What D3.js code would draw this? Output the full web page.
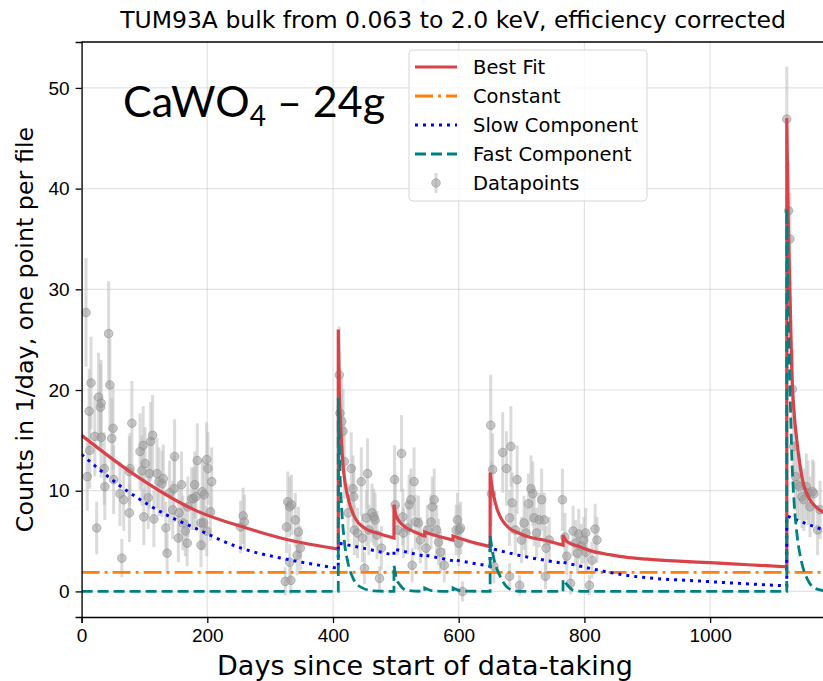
<!DOCTYPE html>
<html lang="en">
<head>
    <meta charset="UTF-8">
    <title>TUM93A bulk fit</title>
    <script src="https://d3js.org/d3.v7.min.js"></script>
    <style>
        body {
            margin: 0;
            background: #fff;
        }
        svg {
            display: block;
            font-family: "DejaVu Sans", sans-serif;
        }
        .grid line {
            stroke: #b0b0b0;
            stroke-opacity: 0.35;
            stroke-width: 1.2;
        }
        .axis path, .axis line {
            stroke: #000;
            stroke-width: 1.3;
        }
        .axis text {
            font-size: 19px;
            fill: #000;
        }
        .errbar {
            stroke: #bdbdbd;
            stroke-opacity: 0.55;
            stroke-width: 3;
        }
        .point {
            fill: #9a9a9a;
            fill-opacity: 0.55;
            stroke: #8a8a8a;
            stroke-opacity: 0.5;
        }
    </style>
</head>
<body>
<div id="chart"></div>
<script>
    // data points: day, counts per day, error
    var pointDays = [7, 9, 12, 13, 15, 21, 24, 27, 30, 31, 31, 36, 37, 43, 45, 48, 50, 51, 61, 64, 67, 76, 76, 77, 80,
        93, 96, 98, 99, 101, 106, 108, 110, 113, 115, 120, 123, 128, 130, 134, 136, 140, 145, 147, 148, 154, 155,
        159, 161, 165, 168, 169, 175, 178, 180, 182, 184, 190, 190, 192, 194, 195, 199, 199, 201, 205, 207,
        253, 257, 259, 324, 326, 328, 331, 331, 333, 334, 340, 343, 345, 348,
        410, 411, 414, 416, 418, 424, 429, 432, 433, 434, 439, 445, 447, 450, 453, 455, 457, 462, 465, 467, 470, 474, 477,
        498, 499, 503, 509, 511, 512, 519, 521, 524, 526, 529, 531, 536, 539, 548, 550, 556, 558, 561, 565, 568, 571, 577,
        596, 598, 600, 601, 603, 606,
        651, 652, 654, 656, 670, 676, 681, 681, 683, 685, 690, 693, 697, 700, 704, 707, 711, 715, 718, 720, 724, 728,
        732, 736, 738, 739, 744,
        765, 769, 772, 778, 782, 786, 789, 791, 795, 799, 802, 803, 808, 812, 817, 820,
        1122, 1125, 1127, 1131, 1133, 1136, 1139, 1142, 1146, 1149, 1153, 1156, 1159, 1163, 1165, 1171, 1175];
    var pointCounts = [27.7, 11.4, 17.9, 14.0, 20.7, 15.4, 6.3, 19.3, 18.3, 18.7, 15.3, 12.2, 10.4, 25.6, 20.5, 15.2, 16.2, 11.1, 9.7, 3.3, 9.1, 7.8, 11.9, 12.2, 16.7,
        13.9, 12.0, 14.5, 7.4, 12.7, 9.3, 11.7, 14.9, 15.5, 7.2, 11.7, 10.9, 10.7, 11.2, 6.3, 3.8, 9.8, 8.1, 10.2, 13.4, 5.3, 7.8,
        10.6, 6.8, 6.0, 4.8, 8.4, 9.2, 9.2, 10.6, 9.4, 13.0, 6.8, 4.6, 9.9, 6.8, 9.6, 13.1, 6.0, 12.2, 7.9, 10.9,
        6.4, 7.5, 6.9, 1.0, 6.4, 8.9, 8.4, 2.9, 1.1, 8.6, 7.1, 3.6, 5.9, 4.3,
        21.5, 17.7, 16.9, 15.9, 12.9, 7.8, 12.2, 10.2, 9.4, 6.1, 5.8, 10.9, 5.3, 2.3, 7.3, 11.7, 6.1, 7.8, 7.4, 7.1, 5.6, 1.3, 4.3,
        11.1, 8.6, 6.1, 13.7, 7.4, 5.8, 6.3, 8.6, 9.1, 2.6, 10.9, 6.9, 6.8, 5.1, 4.3, 6.1, 6.9, 8.4, 9.1, 6.1, 4.9, 3.9, 2.6,
        6.1, 7.1, 4.8, 6.1, 6.3, 0.0,
        16.5, 9.7, 12.1, 2.5, 13.8, 12.2, 7.3, 1.5, 14.4, 8.8, 6.1, 11.1, 0.6, 5.1, 6.8, 5.8, 8.7, 10.2, 9.7, 7.3, 5.8, 7.1,
        9.1, 7.1, 1.5, 4.3, 5.1,
        9.1, 5.4, 3.5, 0.8, 6.0, 4.8, 3.8, 5.7, 4.5, 5.1, 5.8, 3.9, 0.6, 3.1, 6.2, 5.1,
        46.9, 37.8, 35.0, 20.1, 14.4, 11.4, 10.6, 10.4, 9.4, 9.1, 10.4, 9.8, 8.4, 9.9, 9.7, 6.1, 8.1];
    var pointErrors = [5.4, 3.4, 4.2, 3.8, 4.6, 4.0, 2.6, 4.4, 4.3, 4.3, 4.0, 3.6, 3.3, 5.2, 4.6, 4.0, 4.1, 3.4, 3.2, 1.9, 3.1, 2.9, 3.5, 3.5, 4.2,
        3.8, 3.5, 3.9, 2.8, 3.6, 3.1, 3.5, 3.9, 4.0, 2.8, 3.5, 3.4, 3.3, 3.4, 2.6, 2.0, 3.2, 2.9, 3.3, 3.7, 2.4, 2.9,
        3.3, 2.7, 2.5, 2.3, 3.0, 3.1, 3.1, 3.3, 3.1, 3.7, 2.7, 2.2, 3.2, 2.7, 3.2, 3.7, 2.5, 3.6, 2.9, 3.4,
        2.6, 2.8, 2.7, 1.4, 2.6, 3.0, 3.0, 1.8, 1.4, 3.0, 2.7, 2.0, 2.5, 2.2,
        4.8, 4.4, 4.3, 4.2, 3.7, 2.9, 3.6, 3.3, 3.1, 2.5, 2.5, 3.4, 2.4, 1.6, 2.8, 3.5, 2.5, 2.9, 2.8, 2.7, 2.4, 1.2, 2.2,
        3.4, 3.0, 2.5, 3.8, 2.8, 2.5, 2.6, 3.0, 3.1, 1.7, 3.4, 2.7, 2.7, 2.3, 2.2, 2.5, 2.7, 3.0, 3.1, 2.5, 2.3, 2.0, 1.7,
        2.5, 2.7, 2.3, 2.5, 2.6, 1.0,
        5.0, 3.2, 3.6, 1.7, 4.0, 3.7, 2.8, 1.3, 4.0, 3.0, 2.5, 3.4, 1.0, 2.3, 2.7, 2.5, 3.0, 3.3, 3.2, 2.8, 2.5, 2.7,
        3.1, 2.7, 1.3, 2.2, 2.3,
        3.1, 2.4, 1.9, 1.1, 2.5, 2.3, 2.0, 2.5, 2.2, 2.3, 2.5, 2.0, 1.0, 1.8, 2.5, 2.3,
        5.2, 4.8, 4.6, 4.0, 3.8, 3.4, 3.3, 3.3, 3.1, 3.1, 3.3, 3.2, 3.0, 3.2, 3.2, 2.5, 2.9];

    // fitted curves as [day, value] pieces (each piece starts where a new file begins)
    var bestFitSegments = [
        [[0, 15.5], [77, 11.9], [183, 8.0], [262, 6.3], [330, 5.1], [408.4, 4.2]],
        [[408.4, 26.0], [410, 20.0], [413, 15.5], [416, 12.5], [420, 10.5], [426, 8.8], [435, 7.3], [450, 6.3], [470, 5.8], [497, 5.3]],
        [[497, 8.6], [500, 7.6], [506, 6.9], [515, 6.4], [530, 5.9], [546, 5.5]],
        [[546, 5.9], [560, 5.6], [575, 5.35], [591, 5.1]],
        [[591, 5.5], [610, 5.1], [630, 4.75], [650, 4.45]],
        [[650, 11.8], [653, 10.3], [656, 9.4], [662, 8.0], [670, 7.0], [680, 6.3], [695, 5.8], [712, 5.4], [735, 5.1], [766, 4.6]],
        [[766, 5.6], [770, 5.1], [775, 4.85], [790, 4.5], [812, 4.0], [840, 3.65], [865, 3.4], [900, 3.2], [950, 3.0], [1000, 2.85], [1060, 2.65], [1122, 2.45]],
        [[1122, 47.0], [1124, 38.0], [1127, 30.0], [1130, 22.0], [1134, 17.5], [1138, 15.0], [1146, 11.4], [1159, 9.1], [1170, 8.3], [1185, 7.7]]
    ];
    var constantDays = [0, 1185];
    var constantValues = [1.9, 1.9];
    var slowSegments = [
        [[0, 13.6], [72, 10.0], [135, 7.6], [180, 6.3], [249, 4.4], [334, 3.1], [408.4, 2.3]],
        [[408.4, 4.8], [448, 4.3], [497, 3.6]],
        [[497, 4.2], [546, 3.5]],
        [[546, 3.6], [591, 3.05]],
        [[591, 3.15], [650, 2.5]],
        [[650, 4.3], [695, 3.6], [766, 2.8]],
        [[766, 2.9], [867, 1.6], [1000, 0.97], [1122, 0.55]],
        [[1122, 7.5], [1150, 6.8], [1185, 6.0]]
    ];
    var fastSegments = [
        [[0, 0], [408.4, 0]],
        [[408.4, 19.2], [411, 12.0], [414, 8.0], [418, 5.0], [424, 2.8], [432, 1.3], [445, 0.4], [465, 0.05], [497, 0]],
        [[497, 2.6], [501, 1.3], [507, 0.6], [517, 0.12], [546, 0]],
        [[546, 0.35], [560, 0.05], [591, 0]],
        [[591, 0.35], [605, 0.05], [650, 0]],
        [[650, 5.5], [655, 3.5], [660.5, 2.3], [666, 1.5], [671, 0.9], [684, 0.15], [700, 0], [766, 0]],
        [[766, 1.2], [772, 0.7], [783, 0.1], [800, 0], [1122, 0]],
        [[1122, 38.0], [1124, 29.0], [1127, 20.5], [1130, 13.5], [1134, 8.5], [1138, 5.8], [1146, 2.8], [1155, 1.2], [1167, 0.3], [1185, 0.05]]
    ];

    var xTicks = [0, 200, 400, 600, 800, 1000];
    var yTicks = [0, 10, 20, 30, 40, 50];
    var legendLabels = ["Best Fit", "Constant", "Slow Component", "Fast Component", "Datapoints"];

    var W = 823, H = 681;
    var margin = {top: 42, left: 81.6, bottom: 64};
    var plotW = 1200 * 0.6285,
        plotH = H - margin.top - margin.bottom;

    var svg = d3.select("#chart").append("svg")
        .attr("width", W)
        .attr("height", H);

    var x = d3.scaleLinear().domain([0, 1200]).range([margin.left, margin.left + plotW]);
    var y = d3.scaleLinear().domain([-2.54, 54.56]).range([margin.top + plotH, margin.top]);

    svg.append("clipPath").attr("id", "plotclip")
        .append("rect")
        .attr("x", margin.left).attr("y", margin.top)
        .attr("width", plotW).attr("height", plotH);

    // grid
    var grid = svg.append("g").attr("class", "grid");
    grid.selectAll(".gx").data(xTicks).enter().append("line")
        .attr("x1", function(d) { return x(d); }).attr("x2", function(d) { return x(d); })
        .attr("y1", margin.top).attr("y2", margin.top + plotH);
    grid.selectAll(".gy").data(yTicks).enter().append("line")
        .attr("x1", margin.left).attr("x2", margin.left + plotW)
        .attr("y1", function(d) { return y(d); }).attr("y2", function(d) { return y(d); });

    var plot = svg.append("g").attr("clip-path", "url(#plotclip)");

    var points = pointDays.map(function(d, i) {
        return {day: d, v: pointCounts[i], e: pointErrors[i]};
    });

    // error bars and points
    plot.selectAll(".errbar").data(points).enter().append("line")
        .attr("class", "errbar")
        .attr("x1", function(d) { return x(d.day); })
        .attr("x2", function(d) { return x(d.day); })
        .attr("y1", function(d) { return y(d.v - d.e); })
        .attr("y2", function(d) { return y(d.v + d.e); });
    plot.selectAll(".point").data(points).enter().append("circle")
        .attr("class", "point")
        .attr("cx", function(d) { return x(d.day); })
        .attr("cy", function(d) { return y(d.v); })
        .attr("r", 4.3);

    var curveGen = d3.line()
        .x(function(d) { return x(d[0]); })
        .y(function(d) { return y(d[1]); })
        .curve(d3.curveMonotoneX);

    function segmentsPath(segs) {
        return segs.map(function(s, i) {
            var p = curveGen(s);
            return i === 0 ? p : "L" + p.slice(1);
        }).join("");
    }

    var styles = [
        {color: "#d8434a", width: 3.2, dash: null},
        {color: "#ff7f0e", width: 2.8, dash: "18,5,3,5"},
        {color: "#0000ff", width: 3, dash: "3,5"},
        {color: "#008080", width: 2.8, dash: "11,5"}
    ];

    plot.append("path")
        .attr("d", segmentsPath(bestFitSegments))
        .attr("fill", "none").attr("stroke", styles[0].color).attr("stroke-width", styles[0].width);
    plot.append("path")
        .attr("d", curveGen(constantDays.map(function(d, i) { return [d, constantValues[i]]; })))
        .attr("fill", "none").attr("stroke", styles[1].color).attr("stroke-width", styles[1].width)
        .attr("stroke-dasharray", styles[1].dash);
    plot.append("path")
        .attr("d", segmentsPath(slowSegments))
        .attr("fill", "none").attr("stroke", styles[2].color).attr("stroke-width", styles[2].width)
        .attr("stroke-dasharray", styles[2].dash);
    plot.append("path")
        .attr("d", segmentsPath(fastSegments))
        .attr("fill", "none").attr("stroke", styles[3].color).attr("stroke-width", styles[3].width)
        .attr("stroke-dasharray", styles[3].dash);

    // axes
    svg.append("g")
        .attr("class", "axis")
        .attr("transform", "translate(0," + (margin.top + plotH) + ")")
        .call(d3.axisBottom(x).tickValues(xTicks).tickFormat(d3.format("d"))
            .tickSizeOuter(0).tickSize(6).tickPadding(6));
    svg.append("g")
        .attr("class", "axis")
        .attr("transform", "translate(" + margin.left + ",0)")
        .call(d3.axisLeft(y).tickValues(yTicks).tickSizeOuter(0).tickSize(6).tickPadding(6));
    svg.append("line")
        .attr("x1", margin.left).attr("x2", margin.left + plotW)
        .attr("y1", margin.top).attr("y2", margin.top)
        .attr("stroke", "#000").attr("stroke-width", 1.3);

    // title and labels
    svg.append("text")
        .attr("x", 453).attr("y", 28)
        .attr("text-anchor", "middle")
        .style("font-size", "23.5px")
        .text("TUM93A bulk from 0.063 to 2.0 keV, efficiency corrected");
    svg.append("text")
        .attr("transform", "translate(33," + (margin.top + plotH / 2) + ") rotate(-90)")
        .attr("text-anchor", "middle")
        .style("font-size", "23.8px")
        .text("Counts in 1/day, one point per file");
    svg.append("text")
        .attr("x", 425).attr("y", 675)
        .attr("text-anchor", "middle")
        .style("font-size", "27px")
        .text("Days since start of data-taking");

    var cawo = svg.append("text")
        .attr("x", 123).attr("y", 117)
        .style("font-family", "Lato, 'Open Sans', sans-serif")
        .style("font-size", "43px");
    cawo.append("tspan").text("CaWO");
    cawo.append("tspan").attr("dy", 9).style("font-size", "28px").text("4");
    cawo.append("tspan").attr("dy", -9).text(" \u2013 24g");

    // legend
    var lg = svg.append("g").attr("transform", "translate(409,50)");
    lg.append("rect")
        .attr("width", 238).attr("height", 151).attr("rx", 4)
        .attr("fill", "#fff").attr("fill-opacity", 0.8)
        .attr("stroke", "#d6d6d6");
    legendLabels.forEach(function(label, i) {
        var ly = 17 + i * 29;
        if (i < 4) {
            lg.append("line")
                .attr("x1", 6).attr("x2", 48).attr("y1", ly).attr("y2", ly)
                .attr("stroke", styles[i].color).attr("stroke-width", styles[i].width)
                .attr("stroke-dasharray", styles[i].dash);
        } else {
            lg.append("line").attr("class", "errbar")
                .attr("x1", 27).attr("x2", 27).attr("y1", ly - 10).attr("y2", ly + 10);
            lg.append("circle").attr("class", "point")
                .attr("cx", 27).attr("cy", ly).attr("r", 4.3);
        }
        lg.append("text")
            .attr("x", 64).attr("y", ly + 7)
            .style("font-size", "19.5px")
            .text(label);
    });
</script>
</body>
</html>
